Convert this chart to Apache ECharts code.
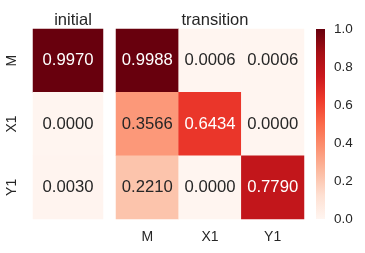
<!DOCTYPE html>
<html><head><meta charset="utf-8">
<script src="https://cdn.jsdelivr.net/npm/echarts@6/dist/echarts.min.js"></script>
<style>html,body{margin:0;padding:0;background:#fff}#c{width:365px;height:253px}</style>
</head><body><div id="c"></div>
<script>
const rows = ['M', 'X1', 'Y1'];
const cols = ['M', 'X1', 'Y1'];
const initialCol = ['initial'];
const initialValues = [0.9970, 0.0000, 0.0030];
const transitionValues = [
  [0.9988, 0.0006, 0.0006],
  [0.3566, 0.6434, 0.0000],
  [0.2210, 0.0000, 0.7790]
];
const colorbarTicks = [0, 0.2, 0.4, 0.6, 0.8, 1.0];
const reds = ['#fff5f0','#fee0d2','#fcbba1','#fc9272','#fb6a4a','#ef3b2c','#cb181d','#a50f15','#67000d'];
const FONT = 'Liberation Sans, Arial, sans-serif';
const DARK = '#262626';

function cell(x, y, v) {
  return { value: [x, y, v], label: { color: v > 0.55 ? '#ffffff' : DARK } };
}
const initData = initialValues.map((v, i) => cell(0, i, v));
const transData = [];
transitionValues.forEach((r, i) => r.forEach((v, j) => transData.push(cell(j, i, v))));

const chart = echarts.init(document.getElementById('c'), null, { renderer: 'canvas' });
const lbl = { show: true, fontFamily: FONT, fontSize: 16.7, formatter: p => p.value[2].toFixed(4) };
chart.setOption({
  backgroundColor: '#ffffff',
  animation: false,
  title: [
    { text: 'initial', left: 68, top: 7, textAlign: 'center', textStyle: { fontFamily: FONT, fontSize: 16.5, fontWeight: 'normal', color: DARK } },
    { text: 'transition', left: 210, top: 7, textAlign: 'center', textStyle: { fontFamily: FONT, fontSize: 16.5, fontWeight: 'normal', color: DARK } }
  ],
  grid: [
    { left: 33, top: 29, width: 70, height: 190 },
    { left: 116, top: 29, width: 188, height: 190 },
    { left: 316, top: 29, width: 9, height: 190 }
  ],
  xAxis: [
    { gridIndex: 0, type: 'category', data: initialCol, show: false },
    { gridIndex: 1, type: 'category', data: cols, axisLine: { show: false }, axisTick: { show: false },
      axisLabel: { fontFamily: FONT, fontSize: 14, color: DARK, margin: 11 } },
    { gridIndex: 2, type: 'category', data: [''], show: false }
  ],
  yAxis: [
    { gridIndex: 0, type: 'category', data: rows, inverse: true, axisLine: { show: false }, axisTick: { show: false },
      axisLabel: { fontFamily: FONT, fontSize: 14, color: DARK, rotate: 90, margin: 14 } },
    { gridIndex: 1, type: 'category', data: rows, inverse: true, show: false },
    { gridIndex: 2, type: 'value', min: 0, max: 1, interval: 0.2, position: 'right',
      axisLine: { show: false }, axisTick: { show: false }, splitLine: { show: false },
      axisLabel: { fontFamily: FONT, fontSize: 13.5, color: DARK, margin: 9, formatter: v => v.toFixed(1) } }
  ],
  visualMap: { show: false, type: 'continuous', min: 0, max: 1, seriesIndex: [0, 1], inRange: { color: reds } },
  series: [
    { type: 'heatmap', xAxisIndex: 0, yAxisIndex: 0, data: initData, label: lbl, itemStyle: { borderWidth: 0 } },
    { type: 'heatmap', xAxisIndex: 1, yAxisIndex: 1, data: transData, label: lbl, itemStyle: { borderWidth: 0 } },
    { type: 'bar', xAxisIndex: 2, yAxisIndex: 2, data: [1], barWidth: '100%', silent: true,
      itemStyle: { color: new echarts.graphic.LinearGradient(0, 1, 0, 0, reds.map((c, i) => ({ offset: i / (reds.length - 1), color: c }))) } }
  ]
});
</script></body></html>
